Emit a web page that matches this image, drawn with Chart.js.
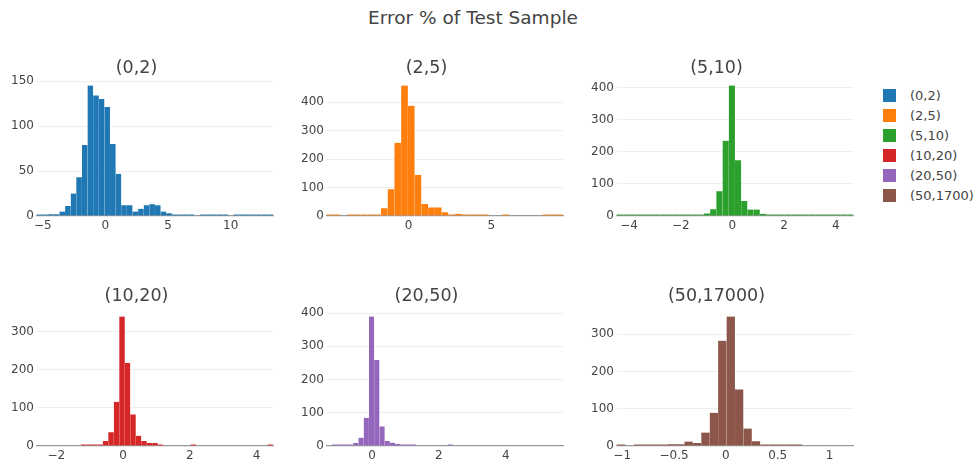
<!DOCTYPE html>
<html>
<head>
<meta charset="utf-8">
<script src="https://cdn.jsdelivr.net/npm/chart.js@4.4.1/dist/chart.umd.min.js"></script>
<style>
  html, body { margin: 0; padding: 0; background: #fff; }
  body { width: 977px; height: 466px; position: relative; overflow: hidden;
         font-family: "DejaVu Sans", Verdana, sans-serif; color: #444; }
  #title { position: absolute; left: 323px; width: 300px; top: 7px; text-align: center;
           font-size: 18.5px; white-space: nowrap; }
  #legend { position: absolute; left: 883px; top: 85px; font-size: 13px; }
  .item { height: 20px; display: flex; align-items: center; white-space: nowrap; }
  .swatch { width: 13px; height: 13px; margin-right: 14px; }
  canvas.panel { position: absolute; }
</style>
</head>
<body>
<div id="title">Error % of Test Sample</div>
<div id="legend"></div>

<script>
// Panel titles (error-magnitude groups) and legend entries
const panelTitles  = ['(0,2)', '(2,5)', '(5,10)', '(10,20)', '(20,50)', '(50,17000)'];
const legendLabels = ['(0,2)', '(2,5)', '(5,10)', '(10,20)', '(20,50)', '(50,1700)'];

// Histogram bins: left edge of the first bin and bin width for each panel
const binStart = [-5.46, -4.92, -4.47, -2.58, -1.35, -1.05];
const binWidth = [0.4486, 0.407, 0.2405, 0.1644, 0.157, 0.0813];

// Counts per bin
const counts0to2 = [1, 1, 2, 2, 5, 11, 25, 43, 79, 145, 134, 130, 121, 80, 47, 12, 12, 5, 8, 12, 13,
                    12, 5, 3, 1, 1, 1, 1, 0, 1, 1, 1, 1, 1, 0, 1, 1, 1, 1, 1, 1, 1];
const counts2to5 = [1, 1, 0, 1, 1, 1, 1, 5, 27, 94, 257, 458, 387, 144, 42, 30, 30, 13, 1, 8, 1,
                    1, 1, 1, 0, 0, 1, 0, 0, 0, 0, 0, 1, 1, 1];
const counts5to10 = [1, 1, 1, 1, 1, 1, 1, 1, 1, 1, 1, 1, 2, 4, 8, 21, 77, 235, 407, 174, 47, 20, 20,
                     7, 4, 4, 1, 1, 1, 1, 1, 1, 1, 1, 1, 1, 1, 1];
const counts10to20 = [0, 0, 0, 0, 0, 0, 0, 0, 1, 4, 4, 2, 13, 36, 116, 340, 218, 83, 27, 13, 8, 8,
                      2, 0, 0, 0, 0, 0, 2, 0, 0, 0, 0, 0, 0, 0, 0, 0, 0, 0, 0, 0, 2];
const counts20to50 = [0, 1, 1, 1, 2, 9, 25, 85, 390, 259, 59, 15, 10, 6, 2, 2, 1, 0, 0, 0, 0, 0, 0,
                      2, 0, 0, 0, 0, 0, 0, 0, 0, 0, 0, 0, 0, 0, 0, 0, 0, 0, 0, 0, 0, 0];
const counts50up = [4, 0, 2, 2, 2, 2, 5, 5, 12, 8, 36, 89, 283, 348, 152, 47, 13, 2, 2, 2, 2, 2,
                    0, 0, 0, 0, 0, 0];

// Axis tick values
const xTicks = [[-5, 0, 5, 10], [0, 5], [-4, -2, 0, 2, 4], [-2, 0, 2, 4], [0, 2, 4], [-1, -0.5, 0, 0.5, 1]];
const yTicks = [[0, 50, 100, 150], [0, 100, 200, 300, 400], [0, 100, 200, 300, 400],
                [0, 100, 200, 300], [0, 100, 200, 300, 400], [0, 100, 200, 300]];

const allCounts = [counts0to2, counts2to5, counts5to10, counts10to20, counts20to50, counts50up];
const colors = ['#1f77b4', '#ff7f0e', '#2ca02c', '#d62728', '#9467bd', '#8c564b'];

const FONT = '"DejaVu Sans", Verdana, sans-serif';
Chart.defaults.font.family = FONT;
Chart.defaults.color = '#444';

// 3 x 2 grid of panels
const colLeft = [0, 290, 580];
const rowTop = [58, 286];
const rowHeight = [180, 182];
const PANEL_W = 310, Y_AXIS_W = 37, X_AXIS_H = 22;

function fmt(v) {
  return v < 0 ? '\u2212' + String(Math.abs(v)) : String(v);
}

function makePanel(i) {
  const row = Math.floor(i / 3), col = i % 3;
  const canvas = document.createElement('canvas');
  canvas.className = 'panel';
  canvas.width = PANEL_W;
  canvas.height = rowHeight[row];
  canvas.style.left = colLeft[col] + 'px';
  canvas.style.top = rowTop[row] + 'px';
  document.body.appendChild(canvas);

  const counts = allCounts[i];
  const start = binStart[i], w = binWidth[i];
  const points = counts.map((c, k) => ({ x: start + (k + 0.5) * w, y: c === 0 ? null : c }));
  const xMin = start, xMax = start + counts.length * w;
  const yMax = Math.max(...counts) * 1.05;

  new Chart(canvas, {
    type: 'bar',
    data: {
      datasets: [{
        label: legendLabels[i],
        data: points,
        backgroundColor: colors[i],
        borderColor: 'rgba(255,255,255,0.55)',
        borderWidth: { top: 0, left: 0, bottom: 0, right: 0.4 },
        borderSkipped: false,
        barPercentage: 1,
        categoryPercentage: 1,
        minBarLength: 1.6
      }]
    },
    options: {
      responsive: false,
      animation: false,
      layout: { padding: { left: 0, right: Y_AXIS_W, top: 0, bottom: 0 } },
      plugins: {
        legend: { display: false },
        tooltip: { enabled: false },
        title: {
          display: true,
          text: panelTitles[i],
          color: '#444',
          font: { size: 17.5, weight: 'normal', family: FONT },
          padding: { top: 0, bottom: row === 0 ? 0 : 3 }
        }
      },
      scales: {
        x: {
          type: 'linear',
          min: xMin,
          max: xMax,
          offset: false,
          grid: { display: false, drawTicks: false },
          border: { display: true, color: '#999', width: 1.3 },
          ticks: {
            padding: 3, maxRotation: 0, autoSkip: false, color: '#444',
            font: { size: 12 },
            callback: v => fmt(v)
          },
          afterBuildTicks: s => { s.ticks = xTicks[i].map(v => ({ value: v })); },
          afterFit: s => { s.height = X_AXIS_H; }
        },
        y: {
          min: 0,
          max: yMax,
          grid: {
            drawTicks: false,
            color: c => (c.tick && c.tick.value === 0) ? 'rgba(0,0,0,0)' : '#eeeeee',
            lineWidth: 1
          },
          border: { display: false },
          ticks: { padding: 3, color: '#444', font: { size: 12 }, callback: v => fmt(v) },
          afterBuildTicks: s => { s.ticks = yTicks[i].map(v => ({ value: v })); },
          afterFit: s => { s.width = Y_AXIS_W; }
        }
      }
    }
  });
}

for (let i = 0; i < 6; i++) makePanel(i);

// Legend entries
const legend = document.getElementById('legend');
legendLabels.forEach((lbl, i) => {
  const item = document.createElement('div');
  item.className = 'item';
  const sw = document.createElement('span');
  sw.className = 'swatch';
  sw.style.background = colors[i];
  const txt = document.createElement('span');
  txt.textContent = lbl;
  item.appendChild(sw);
  item.appendChild(txt);
  legend.appendChild(item);
});
</script>
</body>
</html>
